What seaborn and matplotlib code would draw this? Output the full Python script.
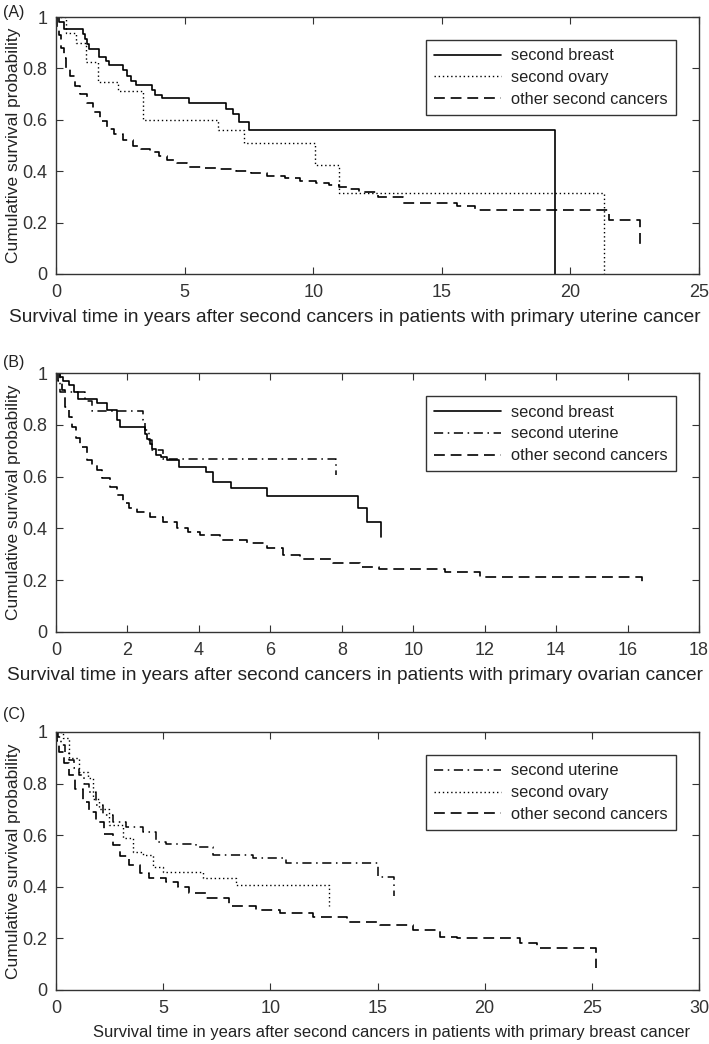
import matplotlib
matplotlib.use('Agg')
import matplotlib.pyplot as plt
import seaborn as sns
import pandas as pd

# ---- data (step points: time, survival after the step) ----
# (A) primary uterine cancer
a_breast_t = [0, 0.1, 0.3, 1.04, 1.12, 1.2, 1.3, 1.66, 1.94, 2.07, 2.6, 2.75, 2.9, 3.1, 3.72, 3.85, 4.12, 5.16, 6.6, 6.9, 7.1, 7.49, 19.4]
a_breast_s = [1, 0.98, 0.955, 0.935, 0.915, 0.895, 0.875, 0.846, 0.83, 0.813, 0.794, 0.772, 0.752, 0.735, 0.716, 0.696, 0.683, 0.664, 0.642, 0.621, 0.59, 0.56, 0.0]
a_ovary_t = [0, 0.39, 0.78, 1.17, 1.62, 2.4, 3.4, 6.28, 7.32, 10.07, 11.0, 21.3]
a_ovary_s = [1, 0.937, 0.898, 0.826, 0.748, 0.712, 0.6, 0.56, 0.508, 0.424, 0.316, 0.0]
a_other_t = [0, 0.05, 0.1, 0.2, 0.3, 0.4, 0.55, 0.75, 0.95, 1.2, 1.45, 1.7, 2.0, 2.25, 2.6, 3.0, 3.3, 3.65, 4.0, 4.3,
             4.7, 5.1, 5.7, 6.3, 7.0, 7.6, 8.2, 8.9, 9.5, 10.1, 10.6, 11.0, 11.3, 11.8, 12.5, 13.5, 15.6, 16.3, 21.5, 22.7]
a_other_s = [1, 0.96, 0.93, 0.88, 0.84, 0.8, 0.77, 0.73, 0.7, 0.665, 0.63, 0.595, 0.565, 0.545, 0.52, 0.5, 0.488, 0.476, 0.46, 0.444,
             0.43, 0.418, 0.413, 0.408, 0.4, 0.392, 0.382, 0.372, 0.362, 0.355, 0.348, 0.34, 0.33, 0.32, 0.3, 0.277, 0.265, 0.25, 0.212, 0.106]

# (B) primary ovarian cancer
b_breast_t = [0, 0.1, 0.2, 0.35, 0.5, 0.62, 1.14, 1.42, 1.7, 1.8, 2.5, 2.55, 2.62, 2.7, 2.8, 2.95, 3.1, 3.45, 4.2, 4.4, 4.9, 5.9, 8.46, 8.72, 9.09]
b_breast_s = [1, 0.985, 0.97, 0.952, 0.927, 0.9, 0.883, 0.857, 0.819, 0.79, 0.765, 0.745, 0.725, 0.705, 0.685, 0.675, 0.664, 0.638, 0.619, 0.58, 0.557, 0.526, 0.477, 0.426, 0.366]
b_uterine_t = [0, 0.1, 0.8, 1.0, 2.44, 2.5, 2.6, 2.68, 3.0, 7.84]
b_uterine_s = [1, 0.927, 0.89, 0.853, 0.82, 0.78, 0.74, 0.703, 0.667, 0.606]
b_other_t = [0, 0.05, 0.16, 0.25, 0.35, 0.44, 0.55, 0.67, 0.86, 1.0, 1.14, 1.3, 1.51, 1.7, 1.88, 2.05, 2.26, 2.63, 3.0, 3.38,
             3.7, 4.03, 4.59, 5.34, 5.9, 6.36, 6.83, 7.76, 8.5, 9.03, 10.9, 11.87, 16.4]
b_other_s = [1, 0.97, 0.934, 0.87, 0.83, 0.793, 0.75, 0.715, 0.664, 0.645, 0.625, 0.595, 0.561, 0.53, 0.497, 0.48, 0.465, 0.445, 0.426, 0.40,
             0.385, 0.375, 0.355, 0.342, 0.323, 0.297, 0.281, 0.268, 0.252, 0.243, 0.233, 0.214, 0.194]

# (C) primary breast cancer
c_uterine_t = [0, 0.1, 0.23, 0.4, 0.62, 0.85, 1.09, 1.3, 1.56, 1.87, 2.18, 2.64, 3.27, 4.04, 4.67, 5.13, 6.53, 7.31, 9.18, 10.73, 15.04, 15.77]
c_uterine_s = [1, 0.98, 0.95, 0.92, 0.891, 0.86, 0.833, 0.8, 0.769, 0.717, 0.678, 0.65, 0.633, 0.611, 0.575, 0.565, 0.556, 0.523, 0.51, 0.491, 0.437, 0.364]
c_ovary_t = [0, 0.31, 0.62, 1.09, 1.48, 1.71, 2.02, 2.49, 3.11, 3.58, 4.04, 4.51, 4.98, 6.84, 8.4, 12.76]
c_ovary_s = [1, 0.975, 0.898, 0.846, 0.82, 0.742, 0.703, 0.64, 0.588, 0.536, 0.523, 0.478, 0.457, 0.433, 0.407, 0.326]
c_other_t = [0, 0.05, 0.16, 0.35, 0.62, 0.9, 1.24, 1.55, 1.87, 2.25, 2.64, 3.0, 3.42, 3.9, 4.35, 5.13, 5.7, 6.22, 7.0, 8.09,
             9.33, 10.45, 12.0, 13.56, 15.12, 16.67, 17.92, 18.7, 21.65, 22.43, 25.2]
c_other_s = [1, 0.965, 0.924, 0.88, 0.833, 0.78, 0.73, 0.69, 0.652, 0.605, 0.562, 0.52, 0.484, 0.455, 0.433, 0.42, 0.398, 0.375, 0.355, 0.327,
             0.31, 0.297, 0.284, 0.265, 0.252, 0.233, 0.207, 0.2, 0.181, 0.162, 0.084]

x_labels = ['Survival time in years after second cancers in patients with primary uterine cancer',
            'Survival time in years after second cancers in patients with primary ovarian cancer',
            'Survival time in years after second cancers in patients with primary breast cancer']
panel_tags = ['(A)', '(B)', '(C)']

SOLID = '-'
DOTTED = (0, (1, 2))
DASHED = (0, (6.5, 3.5))
DASHDOT = (0, (6, 3, 1, 3))

panels = [
    dict(series=[(a_breast_t, a_breast_s, 'second breast', SOLID, 1.2),
                 (a_ovary_t, a_ovary_s, 'second ovary', DOTTED, 1.0),
                 (a_other_t, a_other_s, 'other second cancers', DASHED, 1.2)],
         xlim=25, xticks=range(0, 26, 5), xfs=13.8, xlx=0.465, xly=-0.137),
    dict(series=[(b_breast_t, b_breast_s, 'second breast', SOLID, 1.2),
                 (b_uterine_t, b_uterine_s, 'second uterine', DASHDOT, 1.1),
                 (b_other_t, b_other_s, 'other second cancers', DASHED, 1.2)],
         xlim=18, xticks=range(0, 19, 2), xfs=13.8, xlx=0.465, xly=-0.137),
    dict(series=[(c_uterine_t, c_uterine_s, 'second uterine', DASHDOT, 1.1),
                 (c_ovary_t, c_ovary_s, 'second ovary', DOTTED, 1.0),
                 (c_other_t, c_other_s, 'other second cancers', DASHED, 1.2)],
         xlim=30, xticks=range(0, 31, 5), xfs=11.9, xlx=0.521, xly=-0.135),
]

sns.set_style('ticks')
plt.rcParams['font.family'] = ['Liberation Sans', 'DejaVu Sans']
plt.rcParams['text.color'] = '#222222'
plt.rcParams['axes.labelcolor'] = '#222222'
plt.rcParams['xtick.color'] = '#333333'
plt.rcParams['ytick.color'] = '#333333'

fig = plt.figure(figsize=(7.09, 10.44), dpi=100)
W, H = 709, 1044
# axes boxes in pixels: left, top, right, bottom
boxes = [(56, 17, 699, 274), (56, 373, 699, 632), (56, 732, 699, 990)]
tag_y = [12, 363, 715]

for i, p in enumerate(panels):
    l, t, r, b = boxes[i]
    ax = fig.add_axes([l / W, 1 - b / H, (r - l) / W, (b - t) / H])
    for tt, ss, name, ls, lw in p['series']:
        df = pd.DataFrame({'time': tt, 'surv': ss})
        sns.lineplot(data=df, x='time', y='surv', ax=ax, color='black', linestyle=ls,
                     linewidth=lw, drawstyle='steps-post', estimator=None, sort=False, label=name)
    ax.set_xlim(0, p['xlim'])
    ax.set_ylim(0, 1)
    ax.set_xticks(list(p['xticks']))
    ax.set_yticks([0, 0.2, 0.4, 0.6, 0.8, 1])
    ax.set_yticklabels(['0', '0.2', '0.4', '0.6', '0.8', '1'])
    ax.tick_params(direction='in', top=True, right=True, length=5, width=0.8,
                   labelsize=13, pad=6)
    ax.tick_params(axis='x', pad=7.5)
    for sp in ax.spines.values():
        sp.set_color('#333333')
        sp.set_linewidth(1.0)
    ax.set_ylabel('Cumulative survival probability', fontsize=12.5)
    ax.yaxis.set_label_coords(-0.054, 0.5)
    ax.set_xlabel(x_labels[i], fontsize=p['xfs'])
    ax.xaxis.set_label_coords(p['xlx'], p['xly'])
    leg = ax.legend(loc='upper right', bbox_to_anchor=(0.964, 0.91), borderaxespad=0,
                    fontsize=11.8, handlelength=4.1, handletextpad=0.6, borderpad=0.5,
                    labelspacing=0.42, fancybox=False, framealpha=1, edgecolor='#333333')
    leg.get_frame().set_linewidth(1.0)
    fig.text(3 / W, 1 - tag_y[i] / H, panel_tags[i], fontsize=11.5, va='center', ha='left')

fig.savefig('out.png', dpi=100)
